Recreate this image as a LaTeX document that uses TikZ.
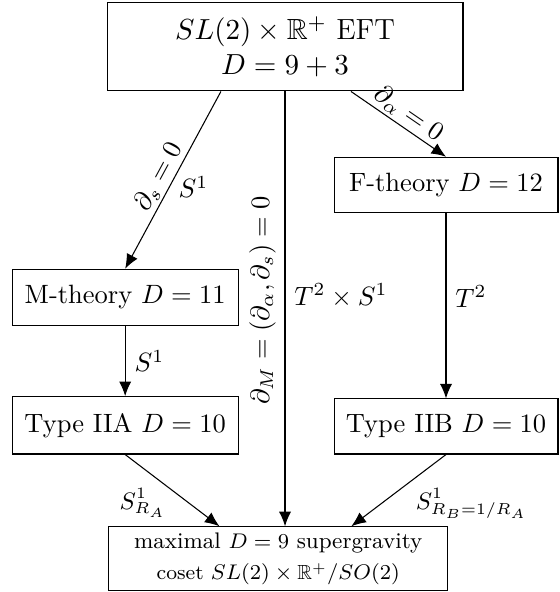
\documentclass[tikz,border=0pt]{standalone}
\usepackage{amsmath}
\usepackage{amssymb}
\usetikzlibrary{arrows.meta,positioning,calc}

\begin{document}
\begin{tikzpicture}[>={Latex[length=5.5pt,width=4.6pt]},
            box/.style={draw, rectangle, align=center, inner sep=2pt},
            lbl/.style={inner sep=1pt},
            every path/.style={thin}]
        \useasboundingbox (0,0) rectangle (7.414,7.851);
        \node[box, minimum width=4.72cm, minimum height=1.17cm, font=\fontsize{11}{13.2}\selectfont] (EFT) at (3.78,7.23)
            {$SL(2)\times\mathbb{R}^+$ EFT\\ $D=9+3$};
        \node[box, minimum width=2.97cm, minimum height=0.73cm] (F) at (5.915,5.40) {F-theory $D=12$};
        \node[box, minimum width=3cm, minimum height=0.74cm] (M) at (1.66,3.91) {M-theory $D=11$};
        \node[box, minimum width=3cm, minimum height=0.76cm] (IIA) at (1.66,2.21) {Type IIA $D=10$};
        \node[box, minimum width=2.97cm, minimum height=0.73cm] (IIB) at (5.915,2.195) {Type IIB $D=10$};
        \node[box, minimum width=4.5cm, minimum height=0.85cm] (sugra) at (3.69,0.44)
            {{\fontsize{8.5}{10.6}\selectfont maximal $D=9$ supergravity}\\
             {\fontsize{7.7}{10.6}\selectfont coset $SL(2)\times\mathbb{R}^+/SO(2)$}};

        \draw[->] ([xshift=-0.85cm]EFT.south) -- node[lbl, pos=0.52, sloped, above] {$\partial_s=0$}
            node[pos=0.54, right] {$S^1$} (M.north);
        \draw[->] ([xshift=0.875cm]EFT.south) -- node[lbl, pos=0.52, sloped, above] {$\partial_\alpha=0$} (F.north);
        \draw[->] (EFT.south) -- node[pos=0.48, rotate=90, anchor=south] {$\partial_M=(\partial_\alpha,\partial_s)=0$}
            node[pos=0.47, right] {$T^2\times S^1$} (EFT.south |- sugra.north);
        \draw[->] (M) -- node[right] {$S^1$} (IIA);
        \draw[->] (F) -- node[pos=0.45, right] {$T^2$} (IIB);
        \draw[->] (IIA.south) -- node[pos=0.45, below left, inner sep=0.5pt, font=\small] {$S^1_{R_A}$} ([xshift=-0.78cm]sugra.north);
        \draw[->] (IIB.south) -- node[pos=0.45, below right, inner sep=0.5pt, xshift=4pt, font=\small] {$S^1_{R_B=1/R_A}$} ([xshift=0.97cm]sugra.north);
\end{tikzpicture}
\end{document}
